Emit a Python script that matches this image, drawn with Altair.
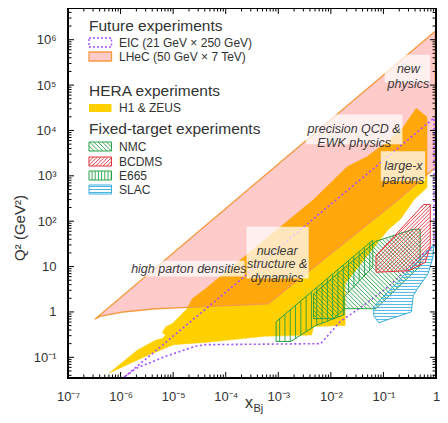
import json
import numpy as np
import pandas as pd
import altair as alt

# ---------------- data ----------------
x_major = [1e-7, 1e-6, 1e-5, 1e-4, 1e-3, 1e-2, 1e-1, 1.0]
x_labels = ["10⁻⁷", "10⁻⁶", "10⁻⁵", "10⁻⁴", "10⁻³", "10⁻²", "10⁻¹", "1"]
y_major = [0.1, 1, 10, 100, 1e3, 1e4, 1e5, 1e6]
y_labels = ["10⁻¹", "1", "10", "10²", "10³", "10⁴", "10⁵", "10⁶"]

# HERA (H1 & ZEUS)
hera_x = [6.1e-7, 2.1e-6, 4.7e-6, 6.2e-6, 7.2e-6, 6.2e-6, 7.2e-6, 9.6e-6, 1.84e-5, 2.3e-5,
          4.06e-5, 4.7e-3, 0.0204, 0.0484, 0.131, 0.239, 0.42, 0.675, 0.675, 0.385,
          0.21, 0.125, 0.041, 0.0187, 0.0187, 4.7e-3, 4.3e-3, 5.4e-4, 4.06e-5, 1.02e-5, 3.0e-6]
hera_q2 = [0.045, 0.145, 0.24, 0.26, 0.31, 0.35, 0.47, 0.55, 1.18, 1.95,
           3.2, 301, 1590, 2630, 6200, 1.19e4, 3.1e4, 1.97e4, 552, 301,
           110, 66.5, 13.3, 4.2, 0.50, 0.48, 0.31, 0.29, 0.213, 0.19, 0.105]

# LHeC
lhec_x = [3.25e-7, 0.966, 0.966, 0.193, 6.4e-4, 4.06e-5, 4.68e-6, 1.11e-6, 4.04e-7]
lhec_q2 = [0.69, 1.53e6, 1510, 301, 1.52, 1.31, 1.18, 1.0, 0.80]

# EIC
eic_x = [1.17e-6, 0.914, 0.914, 0.48, 0.13, 0.041, 0.015, 0.0064, 4.06e-5, 2.6e-5, 7.2e-6, 1.97e-6]
eic_q2 = [0.0365, 1.88e4, 28, 16.2, 3.76, 1.37, 0.61, 0.20, 0.19, 0.174, 0.105, 0.057]

# fixed-target experiments
nmc_x = [4.7e-3, 4.7e-3, 0.0111, 0.0187, 0.0714, 0.50, 0.50, 0.37, 0.0714]
nmc_q2 = [2.5, 0.71, 0.71, 1.18, 1.18, 10.3, 66.5, 66.5, 36]

bcdms_x = [0.0723, 0.0723, 0.306, 0.627, 0.778, 0.778, 0.585]
bcdms_q2 = [17.3, 7.5, 8.1, 12.4, 28.7, 234, 234]

e665_x = [9.1e-4, 9.1e-4, 1.74e-3, 5.1e-3, 0.0179, 0.0179, 0.0627, 0.0627]
e665_q2 = [0.61, 0.224, 0.224, 0.50, 0.87, 2.16, 9.8, 38]

slac_x = [0.081, 0.0655, 0.0655, 0.914, 0.875, 0.705, 0.438, 0.369, 0.338]
slac_q2 = [0.58, 0.83, 1.31, 31, 16.2, 6.9, 3.2, 2.27, 1.0]

# ---------------- layout / style ----------------
W, H = 368, 370
PAD = {"left": 60, "top": 0, "right": 4, "bottom": 37}
X_DOMAIN = [1e-7, 1.0]
Y_DOMAIN = [0.035, 5e6]
KX = W / np.log10(X_DOMAIN[1] / X_DOMAIN[0])
KY = H / np.log10(Y_DOMAIN[1] / Y_DOMAIN[0])
SX = W / 373.0   # layout scale relative to the reference plot box
SY = H / 372.0


def fx(v):  # position inside plot box, given in reference-plot pixels
    return v * SX


def fy(v):
    return v * SY


FONT = "Liberation Sans"
TXT = "#333333"
GOLD = "#FFD000"
LHEC_FILL = "#FF2A2A"
LHEC_OP = 0.25
LHEC_STROKE = "#F59B42"
EIC_C = "#A64DFF"
GREEN = "#27A046"
RED = "#E8333C"
BLUE = "#3AAEE0"

x_scale = alt.Scale(type="log", domain=X_DOMAIN, nice=False)
y_scale = alt.Scale(type="log", domain=Y_DOMAIN, nice=False)
x_axis = alt.Axis(values=x_major, ticks=False, domain=False, grid=False, title=None,
                  labelExpr=json.dumps(x_labels, ensure_ascii=False) + "[round(log(datum.value)/LN10)+7]",
                  labelFont=FONT, labelFontSize=13, labelColor=TXT, labelPadding=12,
                  labelFlush=False, labelOverlap=False)
y_axis = alt.Axis(values=y_major, ticks=False, domain=False, grid=False, title=None,
                  labelExpr=json.dumps(y_labels, ensure_ascii=False) + "[round(log(datum.value)/LN10)+1]",
                  labelFont=FONT, labelFontSize=13, labelColor=TXT, labelPadding=12,
                  labelFlush=False, labelOverlap=False)


def X(f):
    return alt.X(f, type="quantitative", scale=x_scale, axis=x_axis)


def Y(f):
    return alt.Y(f, type="quantitative", scale=y_scale, axis=y_axis)


def poly(xv, qv, **mark):
    df = pd.DataFrame({"x": xv, "q2": qv, "i": list(range(len(xv)))})
    return alt.Chart(df).mark_line(interpolate="linear-closed", **mark).encode(
        x=X("x"), y=Y("q2"), order=alt.Order("i:Q"))


def hatch_segments(pts, d, spacing, phase=0.5):
    pts = np.asarray(pts, float)
    d = np.asarray(d, float)
    d = d / np.linalg.norm(d)
    n = np.array([-d[1], d[0]])
    s_vals = pts @ n
    segs = []
    m = len(pts)
    s = (np.floor(s_vals.min() / spacing) + phase) * spacing
    while s < s_vals.max():
        hits = []
        for i in range(m):
            a = s_vals[i] - s
            b = s_vals[(i + 1) % m] - s
            if (a < 0) != (b < 0):
                f = a / (a - b)
                hits.append(pts[i] + f * (pts[(i + 1) % m] - pts[i]))
        hits.sort(key=lambda p: float(p @ d))
        for j in range(0, len(hits) - 1, 2):
            segs.append((hits[j], hits[j + 1]))
        s += spacing
    return segs


def hatch_layer(xv, qv, d, spacing, color, width=0.9):
    uv = np.column_stack([np.log10(xv) * KX, np.log10(qv) * KY])
    rows = []
    for p, q in hatch_segments(uv, d, spacing):
        rows.append({"x": 10 ** (p[0] / KX), "y": 10 ** (p[1] / KY),
                     "x2": 10 ** (q[0] / KX), "y2": 10 ** (q[1] / KY)})
    df = pd.DataFrame(rows)
    return alt.Chart(df).mark_rule(color=color, strokeWidth=width).encode(
        x=X("x"), y=Y("y"), x2="x2", y2="y2")


one = pd.DataFrame({"a": [0]})


def vtext(txt, x, y, size, **kw):
    kw.setdefault("color", TXT)
    return alt.Chart(one).mark_text(text=txt, font=FONT, fontSize=size, **kw).encode(
        x=alt.value(x), y=alt.value(y))


def vrect(x, x2, y, y2, **kw):
    return alt.Chart(one).mark_rect(**kw).encode(
        x=alt.value(x), x2=alt.value(x2), y=alt.value(y), y2=alt.value(y2))


def swatch_hatch(x0, x1, y0, y1, d, spacing, color):
    pts = [(x0, y0), (x1, y0), (x1, y1), (x0, y1)]
    rows = [{"x": p[0], "y": p[1], "x2": q[0], "y2": q[1]}
            for p, q in hatch_segments(pts, d, spacing)]
    df = pd.DataFrame(rows)
    return alt.Chart(df).mark_rule(color=color, strokeWidth=0.9).encode(
        x=alt.X("x:Q", scale=None), y=alt.Y("y:Q", scale=None), x2="x2:Q", y2="y2:Q")


layers = []
# regions
layers.append(poly(hera_x, hera_q2, fill=GOLD, stroke=GOLD, strokeWidth=0.5))
layers.append(poly(lhec_x, lhec_q2, fill=LHEC_FILL, fillOpacity=LHEC_OP,
                   stroke=LHEC_STROKE, strokeWidth=1.4))
layers.append(poly(eic_x, eic_q2, stroke=EIC_C, strokeWidth=1.6, strokeDash=[2, 2.5]))

# fixed target
layers.append(hatch_layer(e665_x, e665_q2, (0, 1), 5.3, GREEN))
layers.append(poly(e665_x, e665_q2, stroke=GREEN, strokeWidth=1))
layers.append(hatch_layer(nmc_x, nmc_q2, (1, -1), 3.0, GREEN))
layers.append(poly(nmc_x, nmc_q2, stroke=GREEN, strokeWidth=1))
layers.append(hatch_layer(slac_x, slac_q2, (1, 0), 3.0, BLUE))
layers.append(poly(slac_x, slac_q2, stroke=BLUE, strokeWidth=1))
layers.append(hatch_layer(bcdms_x, bcdms_q2, (1, 1), 2.6, RED))
layers.append(poly(bcdms_x, bcdms_q2, stroke=RED, strokeWidth=1))

# physics labels
BOX = dict(fill="white", opacity=0.72)
LBL = dict(fontStyle="italic", color="#3a3a3a")
layers.append(vrect(fx(321), fx(367), fy(47), fy(75), **BOX))
layers.append(vtext(["new", "physics"], fx(345), fy(61), 12.5, lineHeight=15, **LBL))
layers.append(vrect(fx(241), fx(339), fy(107), fy(137), **BOX))
layers.append(vtext(["precision QCD &", "EWK physics"], fx(290), fy(122), 12.5, lineHeight=14, **LBL))
layers.append(vrect(fx(317), fx(362), fy(144), fy(174), **BOX))
layers.append(vtext(["large-x", "partons"], fx(340), fy(159), 12.5, lineHeight=14, **LBL))
layers.append(vrect(fx(181), fx(244), fy(220), fy(272), **BOX))
layers.append(vtext(["nuclear", "structure &", "dynamics"], fx(212), fy(244), 12.5, lineHeight=13.5, **LBL))
layers.append(vrect(fx(59), fx(179), fy(254), fy(270), **BOX))
layers.append(vtext("high parton densities", fx(64), fy(262), 12.5, align="left", **LBL))

# legend
HEAD = 15.5
ITEM = 12
SX0, SX1, TX = 21, 43.5, 51
layers.append(vtext("Future experiments", 21, 17.5, HEAD, align="left"))
layers.append(vrect(SX0, SX1, 30, 39, filled=False, stroke=EIC_C, strokeWidth=1.4, strokeDash=[2, 2]))
layers.append(vtext("EIC (21 GeV × 250 GeV)", TX, 35, ITEM, align="left"))
layers.append(vrect(SX0, SX1, 44, 53, fill=LHEC_FILL, fillOpacity=LHEC_OP, stroke=LHEC_STROKE, strokeWidth=1.3))
layers.append(vtext("LHeC (50 GeV × 7 TeV)", TX, 49, ITEM, align="left"))
layers.append(vtext("HERA experiments", 21, 83, HEAD, align="left"))
layers.append(vrect(SX0, SX1, 96, 104, fill=GOLD))
layers.append(vtext("H1 & ZEUS", TX, 100, ITEM, align="left"))
layers.append(vtext("Fixed-target experiments", 21, 121, HEAD, align="left"))
legend_items = [("NMC", 134, (1, 1), 3.0, GREEN), ("BCDMS", 149, (1, -1), 2.6, RED),
                ("E665", 163, (0, 1), 3.2, GREEN), ("SLAC", 177, (1, 0), 3.0, BLUE)]
for name, y0, d, sp, c in legend_items:
    layers.append(swatch_hatch(SX0, SX1, y0, y0 + 9, d, sp, c))
    layers.append(vrect(SX0, SX1, y0, y0 + 9, filled=False, stroke=c, strokeWidth=1))
    layers.append(vtext(name, TX, y0 + 4.5, ITEM, align="left"))

# axis titles
layers.append(vtext("Q² (GeV²)", -48, 220, 15, angle=270))
layers.append(vtext("x", W / 2 + 1, 395, 16, align="right"))
layers.append(vtext("Bj", W / 2 + 1.5, 401, 11, align="left"))

# ticks (inward, all four sides)
x_minor = [m * 10.0 ** e for e in range(-7, 0) for m in range(2, 10)]
y_minor = [m * 10.0 ** e for e in range(-2, 7) for m in range(2, 10)
           if Y_DOMAIN[0] <= m * 10.0 ** e <= Y_DOMAIN[1]]
for vals, ln in ((x_major, 6), (x_minor, 3.5)):
    df = pd.DataFrame({"v": vals})
    layers.append(alt.Chart(df).mark_rule(color="black", strokeWidth=1).encode(
        x=X("v"), y=alt.value(H), y2=alt.value(H - ln)))
    layers.append(alt.Chart(df).mark_rule(color="black", strokeWidth=1).encode(
        x=X("v"), y=alt.value(0), y2=alt.value(ln)))
for vals, ln in ((y_major, 6), (y_minor, 3.5)):
    df = pd.DataFrame({"v": vals})
    layers.append(alt.Chart(df).mark_rule(color="black", strokeWidth=1).encode(
        y=Y("v"), x=alt.value(0), x2=alt.value(ln)))
    layers.append(alt.Chart(df).mark_rule(color="black", strokeWidth=1).encode(
        y=Y("v"), x=alt.value(W - ln), x2=alt.value(W)))

# frame
layers.append(vrect(0, W, 0, H, filled=False, stroke="black", strokeWidth=2))

chart = alt.layer(*layers).properties(
    width=W, height=H,
    padding=PAD,
    autosize=alt.AutoSizeParams(type="none"),
).configure_view(stroke=None)

chart.save("out.html", embed_options={"renderer": "svg", "actions": False})
